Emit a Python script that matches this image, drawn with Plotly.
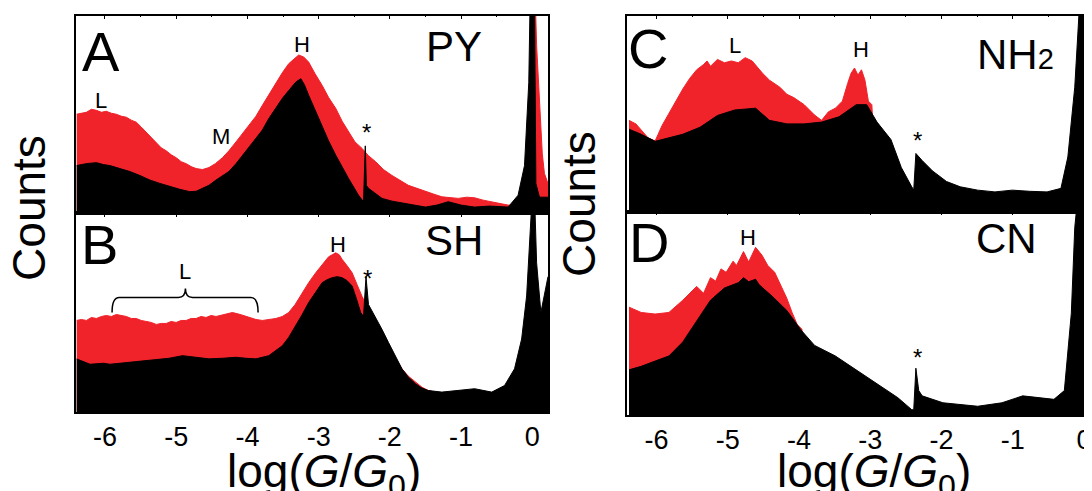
import plotly.graph_objects as go

RED = "#f0222a"
BLACK = "#000000"
FONT = "Liberation Sans, Arial, Helvetica, sans-serif"

tick_vals = [-6, -5, -4, -3, -2, -1, 0]
tick_text = ["-6", "-5", "-4", "-3", "-2", "-1", "0"]

# ---------------- Panel A : PY ----------------
py_red_x = [-6.40, -6.33, -6.26, -6.19, -6.12, -6.05, -5.98, -5.91, -5.84, -5.77, -5.70, -5.63, -5.56,
            -5.49, -5.42, -5.35, -5.28, -5.21, -5.14, -5.07, -5.00, -4.93, -4.86, -4.79, -4.72, -4.63,
            -4.54, -4.45, -4.35, -4.26, -4.16, -4.07, -3.98, -3.88, -3.79, -3.70, -3.60, -3.51, -3.42,
            -3.35, -3.28, -3.21, -3.14, -3.05, -2.95, -2.86, -2.76, -2.67, -2.58, -2.49, -2.39, -2.30,
            -2.20, -2.09, -1.97, -1.86, -1.74, -1.62, -1.50, -1.38, -1.27, -1.15, -1.04, -0.92, -0.81,
            -0.69, -0.57, -0.45, -0.34, -0.20, -0.02, 0.00, 0.04, 0.06, 0.10, 0.14, 0.17, 0.22]
py_red_y = [50, 50.5, 51, 52.5, 52, 51, 51.5, 50.5, 50, 49, 48.5, 47, 46,
            43.5, 41, 38, 36, 33, 31.5, 29.5, 28, 26, 25, 23.5, 22.5, 22,
            23, 25, 28, 31.5, 36, 40, 44, 49, 54.5, 60, 66, 71, 75.6,
            78, 80, 79, 76.4, 70.5, 64.6, 58.5, 53, 46.5, 41, 36, 32.7, 29,
            26, 22, 19, 16.5, 14, 12.5, 10.8, 9.5, 8.2, 7.8, 7.4, 8, 7.7,
            6.5, 5.7, 5, 4, 4, 4, 110, 110, 85, 55, 30, 20, 15]
py_blk_x = [-6.40, -6.26, -6.12, -6.02, -5.93, -5.79, -5.65, -5.51, -5.37, -5.23, -5.09, -4.95, -4.81,
            -4.72, -4.63, -4.54, -4.44, -4.35, -4.26, -4.16, -4.07, -3.98, -3.88, -3.79, -3.70, -3.60,
            -3.51, -3.42, -3.32, -3.25, -3.20, -3.14, -3.05, -2.95, -2.86, -2.76, -2.67, -2.58,
            -2.44, -2.37, -2.345, -2.33, -2.30, -2.20, -2.11, -1.97, -1.83, -1.66, -1.50, -1.34,
            -1.18, -1.00, -0.81, -0.60, -0.34, -0.20, -0.11, -0.05, -0.03, 0.03, 0.05, 0.10, 0.22]
py_blk_y = [24, 25, 25.5, 24.5, 24, 22.5, 21, 19, 16.7, 15, 13.3, 12, 10.8,
            11, 12.5, 14, 16.7, 19, 21, 25, 29, 33, 37.7, 42, 47.8, 53,
            58, 62, 66.3, 68, 65, 59.6, 52, 44.4, 36.5, 29.3, 23, 17.5,
            9, 5.7, 34, 14, 12.5, 10, 7.4, 6, 5, 4, 3, 4,
            5.7, 4, 3, 3.5, 3, 9, 24, 66, 110, 110, 15, 8, 8]

# ---------------- Panel B : SH ----------------
sh_red_x = [-6.40, -6.33, -6.26, -6.19, -6.12, -6.05, -5.98, -5.91, -5.84, -5.77, -5.70, -5.63, -5.56,
            -5.49, -5.42, -5.35, -5.28, -5.21, -5.14, -5.07, -5.00, -4.93, -4.86, -4.79, -4.72,
            -4.65, -4.58, -4.51, -4.44, -4.33, -4.21, -4.10, -3.98, -3.88, -3.79, -3.70, -3.60,
            -3.51, -3.42, -3.33, -3.23, -3.14, -3.04, -2.95, -2.86, -2.81, -2.76, -2.71, -2.67,
            -2.60, -2.53, -2.46, -2.39, -2.30, -2.20, -2.11, -2.02, -1.92, -1.83, -1.74, -1.64,
            -1.55, -1.46, -1.37]
sh_red_y = [46, 46.5, 46, 47.5, 47, 48, 48.5, 48, 49, 48.5, 48, 47, 47,
            46, 45.5, 45, 44, 44.5, 44.5, 45.5, 45, 46, 46, 47, 47,
            48, 47.5, 48.5, 48, 49, 50, 49, 47.5, 46.5, 46, 46.5, 47,
            48, 50, 54, 60, 65, 70, 74, 78, 79, 80, 79, 76.7,
            73.5, 70, 64, 58, 52, 46.7, 40, 33.3, 27, 21.7, 18, 15,
            12.5, 10.8, 10]
sh_blk_x = [-6.40, -6.21, -6.02, -5.93, -5.79, -5.65, -5.47, -5.28, -5.10, -4.91, -4.72, -4.54, -4.35,
            -4.16, -4.02, -3.88, -3.70, -3.51, -3.42, -3.32, -3.23, -3.14, -3.04, -2.95, -2.88,
            -2.81, -2.74, -2.67, -2.60, -2.53, -2.47, -2.41, -2.37, -2.335, -2.30, -2.27, -2.20,
            -2.11, -2.02, -1.92, -1.83, -1.74, -1.64, -1.55, -1.46, -1.27, -1.04, -0.81, -0.57,
            -0.39, -0.25, -0.15, -0.08, -0.04, 0.0, 0.03, 0.06, 0.12, 0.18, 0.22]
sh_blk_y = [26.7, 24, 24.5, 24, 24.5, 25, 25.5, 26, 27, 28.3, 27.5, 26.7, 27,
            27.5, 27, 26.7, 28.3, 33.3, 37.5, 43.3, 49, 55, 60, 65, 66.5,
            67.5, 68, 67.5, 66, 63.3, 57, 50, 48, 68, 54, 52, 48,
            41.5, 35, 28, 21.7, 17.5, 14.2, 12, 10.8, 10, 10.8, 11.7, 10,
            13.3, 21.7, 36.7, 58.3, 83, 110, 110, 75, 50, 60, 68]

# ---------------- Panel C : NH2 ----------------
nh_red_x = [-6.387, -6.29, -6.12, -6.02, -5.924, -5.827, -5.73, -5.632, -5.535, -5.437, -5.34, -5.291,
            -5.243, -5.145, -5.048, -4.95, -4.853, -4.756, -4.658, -4.585, -4.512, -4.415, -4.269,
            -4.171, -4.074, -3.928, -3.782, -3.684, -3.587, -3.49, -3.392, -3.319, -3.27, -3.222,
            -3.173, -3.124, -3.075, -3.027, -2.978, -2.90, -0.10, -0.06, -0.03, 0.056]
nh_red_y = [46.5, 44.7, 37.6, 36, 43.8, 50, 56.3, 62.5, 67.9, 72.3, 75.0, 76.8,
            74.1, 77.6, 75.9, 76.8, 75.9, 78.5, 76.8, 73.7, 70.5, 67.0, 63.4,
            59.8, 58.1, 54.5, 49.2, 46.5, 50.9, 52.7, 56.3, 65.2, 70.5, 73.2,
            69.6, 72.3, 67.0, 56.3, 54.5, 0, 0, 110, 110, 110]
nh_blk_x = [-6.387, -6.216, -6.02, -5.827, -5.632, -5.39, -5.145, -4.902, -4.61, -4.415, -4.17, -3.93,
            -3.684, -3.44, -3.197, -3.05, -2.905, -2.71, -2.564, -2.418, -2.39, -2.36, -2.272,
            -2.126, -1.93, -1.737, -1.493, -1.25, -1.006, -0.762, -0.519, -0.324, -0.227, -0.13,
            -0.056, 0.0, 0.056]
nh_blk_y = [42, 39.4, 35.8, 37.6, 39.4, 43, 49, 51.8, 52.7, 46.5, 44.7, 44.7,
            45.6, 48.3, 54.5, 54.5, 45.6, 36.7, 22.4, 12.6, 11, 29.6, 26,
            20.7, 15.3, 12.6, 10.9, 10, 10.9, 10.3, 10, 11.8, 27.8, 63.4,
            110, 110, 80]

# ---------------- Panel D : CN ----------------
cn_red_x = [-6.387, -6.216, -6.02, -5.827, -5.632, -5.437, -5.34, -5.243, -5.17, -5.096, -5.023, -4.926,
            -4.877, -4.78, -4.707, -4.61, -4.522, -4.439, -4.342, -4.244, -4.171, -4.098, -4.025,
            -3.952]
cn_red_y = [53, 50.4, 49.6, 50.4, 56.4, 63.2, 59.8, 67.5, 65.8, 71.8, 70.1, 75.6,
            73.5, 80.3, 75.2, 82.4, 78.6, 73.5, 70.1, 62.4, 57.3, 50.4, 44.4,
            41.9]
cn_blk_x = [-6.387, -6.216, -6.02, -5.827, -5.632, -5.437, -5.243, -5.048, -4.853, -4.78, -4.707,
            -4.61, -4.56, -4.366, -4.171, -3.976, -3.782, -3.49, -3.197, -2.905, -2.613, -2.418,
            -2.39, -2.36, -2.32, -2.272, -1.98, -1.493, -1.152, -0.86, -0.665, -0.422, -0.276,
            -0.178, -0.13, -0.08, 0.056]
cn_blk_y = [22.2, 23.9, 26.5, 29, 35.9, 46, 56.4, 62.4, 65, 67.5, 65.5,
            66.7, 64, 58, 51.3, 41.9, 34.2, 29, 22.2, 15.4, 8.5, 2.6,
            2.6, 23, 12, 9.4, 6, 4.3, 6, 9.4, 8.5, 7.7, 12,
            50, 92, 110, 110]

panels = [
    ("x", "y", py_red_x, py_red_y, py_blk_x, py_blk_y),
    ("x2", "y2", sh_red_x, sh_red_y, sh_blk_x, sh_blk_y),
    ("x3", "y3", nh_red_x, nh_red_y, nh_blk_x, nh_blk_y),
    ("x4", "y4", cn_red_x, cn_red_y, cn_blk_x, cn_blk_y),
]

fig = go.Figure()
for xa, ya, rx, ry, bx, by in panels:
    fig.add_trace(go.Scatter(x=rx, y=ry, xaxis=xa, yaxis=ya, mode="lines", fill="tozeroy",
                             line=dict(color=RED, width=1), fillcolor=RED, hoverinfo="skip",
                             showlegend=False))
    fig.add_trace(go.Scatter(x=bx, y=by, xaxis=xa, yaxis=ya, mode="lines", fill="tozeroy",
                             line=dict(color=BLACK, width=1), fillcolor=BLACK, hoverinfo="skip",
                             showlegend=False))

# the page body has an 8px margin: figure is 1084x483 placed at (8, 8)
W, H = 1084, 483


def px(X):
    return (X - 8) / W


def py(Y):
    return 1 - (Y - 8) / H


left_dom = [px(76.7), px(550)]
right_dom = [px(629.3), 1.0]
left_range = [-6.40, 0.22]
right_range = [-6.415, 0.056]


def xax(dom, rng, anchor, labels):
    return dict(domain=dom, range=rng, anchor=anchor, tickvals=tick_vals, ticktext=tick_text,
                showticklabels=labels, ticks="inside", ticklen=4, tickwidth=1.2,
                tickcolor="black", showline=True, linecolor="black", linewidth=1.5,
                mirror="ticks", showgrid=False, zeroline=False, ticklabeloverflow="allow",
                tickfont=dict(family=FONT, size=27, color="black"),
                minor=dict(dtick=0.5, ticks="inside", ticklen=2, tickcolor="black"))


def yax(dom, anchor):
    return dict(domain=dom, range=[0, 100], anchor=anchor, showticklabels=False, ticks="",
                showline=True, linecolor="black", linewidth=1.5, mirror=True,
                showgrid=False, zeroline=False)


fig.update_layout(
    width=W, height=H,
    margin=dict(l=0, r=0, t=0, b=0),
    paper_bgcolor="white", plot_bgcolor="white",
    xaxis=xax(left_dom, left_range, "y", False),
    yaxis=yax([py(213), py(15.5)], "x"),
    xaxis2=xax(left_dom, left_range, "y2", True),
    yaxis2=yax([py(412), py(213)], "x2"),
    xaxis3=xax(right_dom, right_range, "y3", False),
    yaxis3=yax([py(211.5), py(15.5)], "x3"),
    xaxis4=xax(right_dom, right_range, "y4", True),
    yaxis4=yax([py(415), py(211.5)], "x4"),
)


def note(text, x, y, xref, yref, size, **kw):
    fig.add_annotation(text=text, x=x, y=y, xref=xref, yref=yref, showarrow=False,
                       font=dict(family=FONT, size=size, color="black"),
                       xanchor="center", yanchor="middle", **kw)


# Panel A
note("A", -6.05, 82, "x", "y", 56)
note("PY", -1.095, 84.3, "x", "y", 42)
note("H", -3.24, 85.4, "x", "y", 22)
note("L", -6.06, 57.1, "x", "y", 22)
note("M", -4.37, 38.9, "x", "y", 22)
note("*", -2.33, 41, "x", "y", 24)
# Panel B
note("B", -6.07, 84, "x2", "y2", 56)
note("SH", -1.095, 86.4, "x2", "y2", 42)
note("H", -2.725, 84.2, "x2", "y2", 22)
note("*", -2.31, 67, "x2", "y2", 24)
note("L", -4.87, 70.4, "x2", "y2", 22)
# brace over the L region of panel B
fig.add_shape(type="path", xref="x2", yref="y2",
              path="M -5.90,50 Q -5.90,57.5 -5.80,57.5 L -4.97,57.5 Q -4.87,57.5 -4.87,62 "
                   "Q -4.87,57.5 -4.77,57.5 L -3.95,57.5 Q -3.85,57.5 -3.85,50",
              line=dict(color="black", width=1.5))
# Panel C
note("C", -6.12, 83.4, "x3", "y3", 56)
note("NH<span style='font-size:29px'>2</span>", -0.965, 80.3, "x3", "y3", 42)
note("L", -4.90, 84.9, "x3", "y3", 22)
note("H", -3.125, 82.6, "x3", "y3", 22)
note("*", -2.34, 36, "x3", "y3", 24)
# Panel D
note("D", -6.10, 84.8, "x4", "y4", 56)
note("H", -4.72, 87.3, "x4", "y4", 22)
note("CN", -1.09, 86.5, "x4", "y4", 42)
note("*", -2.34, 28.5, "x4", "y4", 24)

# axis titles
note("log(<i>G</i>/<i>G</i><sub>0</sub>)", px(325.5), py(474), "paper", "paper", 46)
note("log(<i>G</i>/<i>G</i><sub>0</sub>)", px(877), py(474), "paper", "paper", 46)
note("Counts", px(29), py(208), "paper", "paper", 46, textangle=-90)
note("Counts", px(581), py(204), "paper", "paper", 46, textangle=-90)

fig.write_html("out.html")
